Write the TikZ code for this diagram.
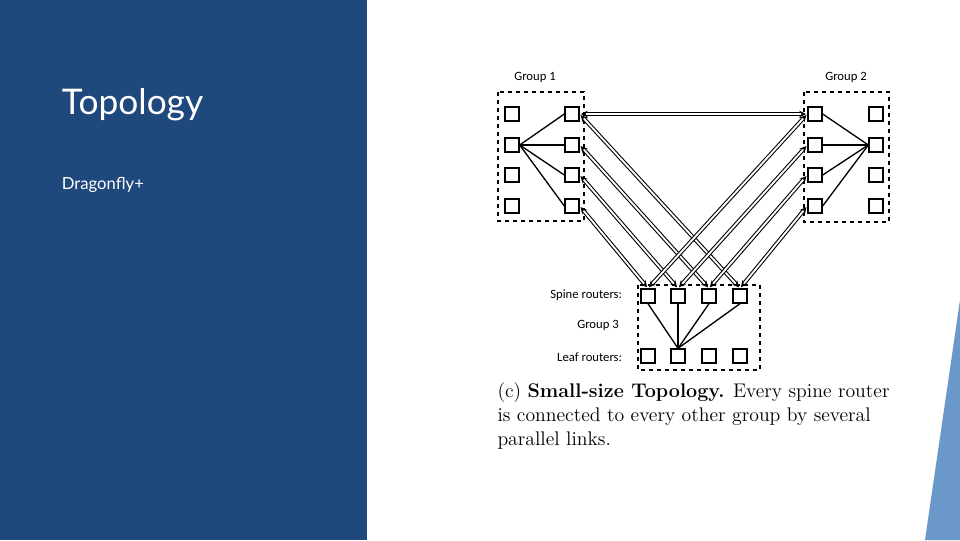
\documentclass[tikz,border=0pt]{standalone}
\usepackage{fontspec}
\newfontfamily\slidefont{Lato}
\newfontfamily\figfont{Carlito}
\definecolor{panelblue}{RGB}{31,73,125}
\definecolor{accentblue}{RGB}{106,152,202}
\tikzset{every picture/.style={line width=0.75pt}}
\begin{document}
\begin{tikzpicture}[x=0.75pt,y=0.75pt,yscale=-1,xscale=1,>=stealth,
  router/.style={draw,line width=1pt,minimum size=10.5pt,inner sep=0pt},
  grp/.style={draw,dashed,line width=1.3pt},
  link/.style={line width=1pt},
  trunk/.style={double,double distance=1.4pt,line width=0.8pt,shorten <=1pt,shorten >=1pt}]
\useasboundingbox (0,0) rectangle (960,540);

%Background panel
\fill [panelblue] (0,0) rectangle (367,540);
%Corner accent
\fill [accentblue] (925,540) -- (960,300) -- (960,540) -- cycle;

% Text Node
\node [anchor=west,text=white,font=\slidefont\fontsize{26.5}{30}\selectfont] (title) at (57,105) {Topology};
% Text Node
\node [anchor=west,text=white,font=\slidefont\fontsize{12.5}{14}\selectfont] (subtitle) at (57,185) {Dragonfly+};

%Group boxes
\draw [grp] (498,92) rectangle (584,221);
\draw [grp] (804,92) rectangle (889,222);
\draw [grp] (638,285) rectangle (760,370);

%Routers
\foreach \r/\y in {1/114,2/145,3/175,4/206} {
  \node [router] (ga\r) at (512,\y) {};
  \node [router] (gb\r) at (572,\y) {};
  \node [router] (hb\r) at (815,\y) {};
  \node [router] (ha\r) at (876,\y) {};
}
\foreach \r/\x in {1/648,2/678,3/709,4/740} {
  \node [router] (sp\r) at (\x,296) {};
  \node [router] (lf\r) at (\x,356) {};
}

%Local links
\foreach \r in {1,...,4} {
  \draw [link] (ga2.east) -- (gb\r.west);
  \draw [link] (ha2.west) -- (hb\r.east);
  \draw [link] (sp\r.south) -- (lf2.north);
}

%Global links
\draw [trunk,<->] (gb1.east) -- (hb1.west);
\foreach \r/\s in {1/4,2/3,3/2,4/1} {
  \draw [trunk,<->] (gb\r.east) -- (sp\s.north);
}
\foreach \r in {1,...,4} {
  \draw [trunk,<->] (hb\r.west) -- (sp\r.north);
}

% Text Node
\node [font=\figfont\fontsize{9.5}{11}\selectfont] (lg1) at (535,77) {Group 1};
% Text Node
\node [font=\figfont\fontsize{9.5}{11}\selectfont] (lg2) at (846,77) {Group 2};
% Text Node
\node [anchor=east,font=\figfont\fontsize{9.5}{11}\selectfont] (lsp) at (627,295) {Spine routers:};
% Text Node
\node [font=\figfont\fontsize{9.5}{11}\selectfont] (lg3) at (598,325) {Group 3};
% Text Node
\node [anchor=east,font=\figfont\fontsize{9.5}{11}\selectfont] (llf) at (627,357) {Leaf routers:};
% Text Node
\node [anchor=north west,align=left,inner sep=0pt,font=\fontsize{14.8}{18}\selectfont] (cap) at (497,382)
  {(c) \textbf{Small-size Topology.} Every spine router\\is connected to every other group by several\\parallel links.};
\end{tikzpicture}
\end{document}
